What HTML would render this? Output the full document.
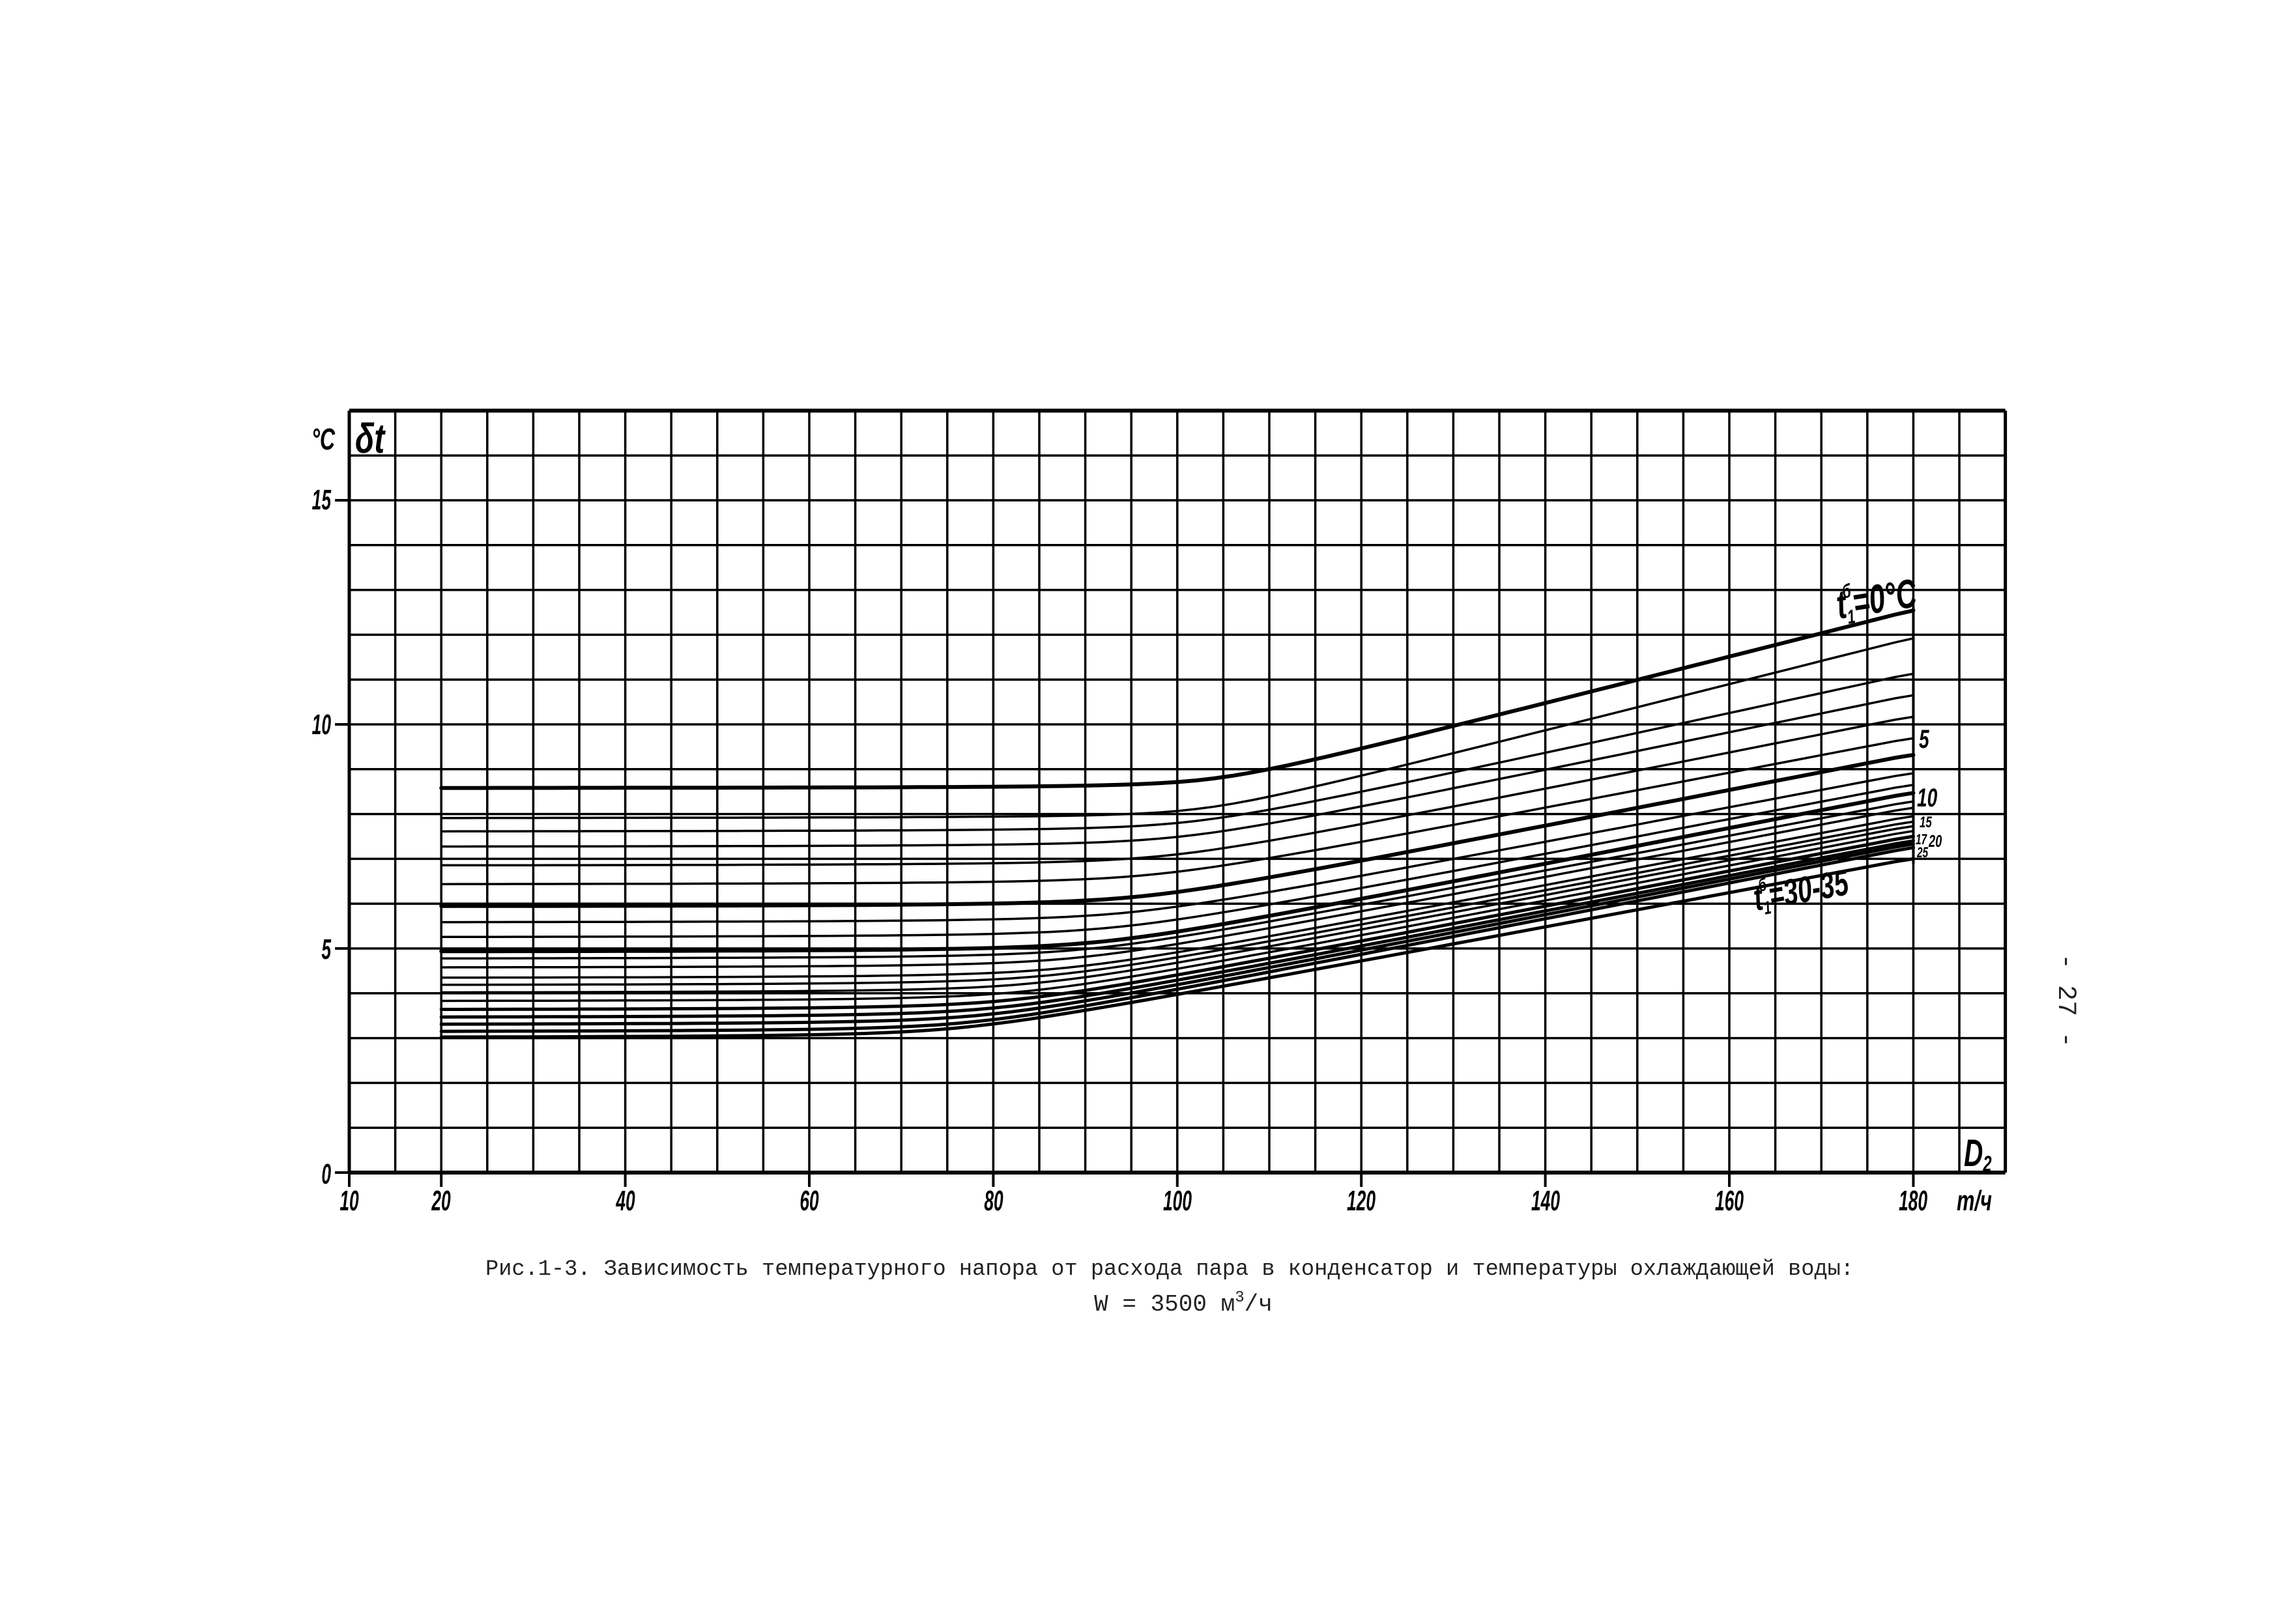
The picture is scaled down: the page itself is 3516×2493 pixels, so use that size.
<!DOCTYPE html>
<html><head><meta charset="utf-8">
<style>
html,body{margin:0;padding:0;background:#fff;}
svg{display:block;}
.lb{font-family:"Liberation Sans",sans-serif;font-weight:bold;font-style:italic;fill:#000;}
.cap{font-family:"Liberation Mono","DejaVu Sans Mono",monospace;fill:#222;}
</style></head>
<body>
<svg id="s" width="3516" height="2493" viewBox="0 0 3516 2493" xmlns="http://www.w3.org/2000/svg">
<g id="grid" stroke="#000" fill="none"></g>
<g id="curves" stroke="#000" fill="none" stroke-linecap="round"></g>
<text class="lb" x="0" y="0" font-size="64" transform="translate(545,695) scale(0.75,1)">δt</text>
<text class="lb" x="0" y="0" font-size="46" transform="translate(478,690) scale(0.7,1)">°C</text>
<g class="lb" font-size="44" text-anchor="end">
<text transform="translate(508,782) scale(0.6,1)">15</text>
<text transform="translate(508,1127) scale(0.6,1)">10</text>
<text transform="translate(508,1472) scale(0.6,1)">5</text>
<text transform="translate(508,1817) scale(0.6,1)">0</text>
</g>
<g class="lb" font-size="44" text-anchor="middle">
<text transform="translate(536,1858) scale(0.6,1)">10</text>
<text transform="translate(677,1858) scale(0.6,1)">20</text>
<text transform="translate(960,1858) scale(0.6,1)">40</text>
<text transform="translate(1242,1858) scale(0.6,1)">60</text>
<text transform="translate(1525,1858) scale(0.6,1)">80</text>
<text transform="translate(1807,1858) scale(0.6,1)">100</text>
<text transform="translate(2089,1858) scale(0.6,1)">120</text>
<text transform="translate(2372,1858) scale(0.6,1)">140</text>
<text transform="translate(2654,1858) scale(0.6,1)">160</text>
<text transform="translate(2936,1858) scale(0.6,1)">180</text>
<text transform="translate(3030,1858) scale(0.7,1)">т/ч</text>
</g>
<text class="lb" font-size="58" transform="translate(3014,1790) scale(0.7,1)">D<tspan font-size="34" dy="8">2</tspan></text>
<g class="lb">
<text font-size="62" transform="translate(2822,950) rotate(-9) scale(0.7,1)">t<tspan font-size="30" dx="-4" dy="-30">б</tspan><tspan font-size="30" dx="-16" dy="40">1</tspan><tspan dy="-10">=0°C</tspan></text>
<text font-size="40" transform="translate(2945,1148) scale(0.7,1)">5</text>
<text font-size="40" transform="translate(2942,1238) scale(0.7,1)">10</text>
<text font-size="24" transform="translate(2946,1270) scale(0.7,1)">15</text>
<text font-size="22" transform="translate(2940,1296) scale(0.7,1)">17</text>
<text font-size="26" transform="translate(2960,1300) scale(0.7,1)">20</text>
<text font-size="22" transform="translate(2942,1316) scale(0.7,1)">25</text>
<text font-size="56" transform="translate(2695,1398) rotate(-10) scale(0.7,1)">t<tspan font-size="28" dx="-4" dy="-28">б</tspan><tspan font-size="28" dx="-14" dy="36">1</tspan><tspan dy="-8">=30-35</tspan></text>
</g>
<text class="cap" x="1795" y="1957" font-size="34" text-anchor="middle" textLength="2100" lengthAdjust="spacingAndGlyphs">Рис.1-3. Зависимость температурного напора от расхода пара в конденсатор и температуры охлаждающей воды:</text>
<text class="cap" x="1816" y="2012" font-size="36" text-anchor="middle">W = 3500 м<tspan font-size="24" dy="-14">3</tspan><tspan dy="14">/ч</tspan></text>
<text class="cap" font-size="40" transform="translate(3160,1536) rotate(90)" text-anchor="middle">- 27 -</text>
</svg>
<script>
(function(){
var NS="http://www.w3.org/2000/svg";
function X(v){return 536+(v-10)*14.12;}
function Y(v){return 1800-v*68.8;}
var g=document.getElementById('grid');
function line(x1,y1,x2,y2,w){var l=document.createElementNS(NS,'line');l.setAttribute('x1',x1);l.setAttribute('y1',y1);l.setAttribute('x2',x2);l.setAttribute('y2',y2);l.setAttribute('stroke-width',w);g.appendChild(l);}
for(var v=10;v<=190;v+=5){line(X(v),Y(0),X(v),Y(17),(v==10||v==190)?5:3.5);}
for(var h=0;h<=17;h++){line(X(10),Y(h),X(190),Y(h),(h==0||h==17)?6:3.5);}
[0,5,10,15].forEach(function(t){line(X(10)-22,Y(t),X(10),Y(t),4);});
[10,20,40,60,80,100,120,140,160,180].forEach(function(t){line(X(t),Y(0),X(t),Y(0)+22,4);});
var L=[8.57,7.9,7.6,7.26,6.84,6.42,5.93,5.57,5.24,4.92,4.76,4.56,4.33,4.17,4.0,3.81,3.62,3.45,3.29,3.13,3.0];
var R=[12.54,11.92,11.13,10.65,10.17,9.69,9.32,8.91,8.65,8.47,8.28,8.14,7.95,7.83,7.73,7.62,7.5,7.4,7.33,7.25,7.0];
var bold={0:1,6:1,9:1};
var c=document.getElementById('curves');
for(var i=0;i<L.length;i++){
 var xi=104-(i/(L.length-1))*28;
 var slope=(R[i]-L[i])/(180-xi);
 var k=0.45;
 var d='';
 for(var x=20;x<=180;x+=2){
  var lin=R[i]-slope*(180-x);
  var val=(L[i]+lin+Math.sqrt((lin-L[i])*(lin-L[i])+k*k))/2;
  if(x==180) val=R[i];
  d+=(x==20?'M':'L')+X(x).toFixed(1)+' '+Y(val).toFixed(1)+' ';
 }
 var p=document.createElementNS(NS,'path');p.setAttribute('d',d);
 p.setAttribute('stroke-width',bold[i]?6:(i>=16?5:3.5));
 c.appendChild(p);
}
var p=document.createElementNS(NS,'line');p.setAttribute('x1',X(180));p.setAttribute('x2',X(180));p.setAttribute('y1',Y(12.6));p.setAttribute('y2',Y(6.9));p.setAttribute('stroke-width',4);c.appendChild(p);
})();
</script>
</body></html>
